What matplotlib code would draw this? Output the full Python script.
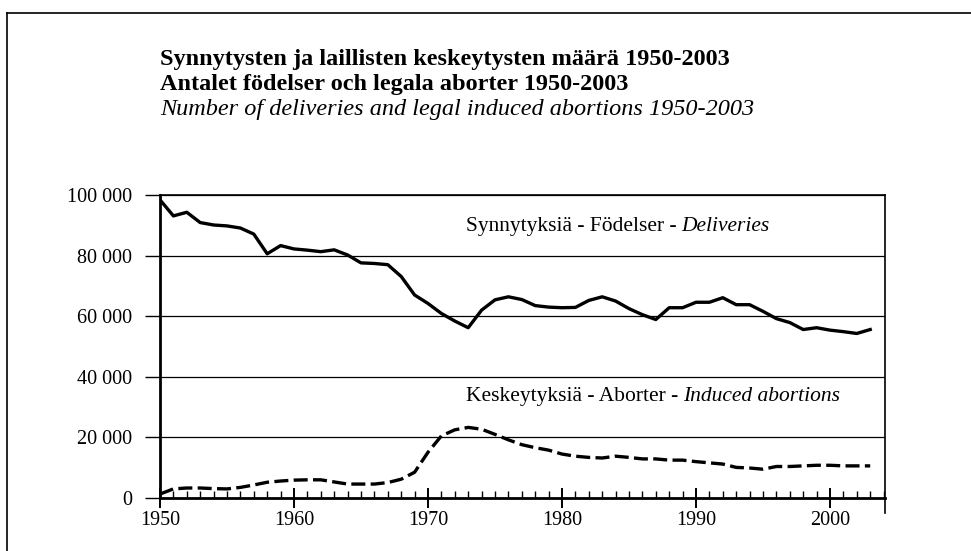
import matplotlib
matplotlib.use("Agg")
import matplotlib.pyplot as plt
from matplotlib.ticker import MultipleLocator, FuncFormatter
from matplotlib.lines import Line2D

years = list(range(1950, 2004))
deliveries = [98.4, 93.1, 94.3, 90.9, 90.1, 89.8, 89.1, 87.1, 80.6, 83.3,
              82.2, 81.8, 81.3, 81.9, 80.2, 77.6, 77.4, 77.0, 73.1, 67.0,
              64.2, 60.9, 58.4, 56.2, 62.0, 65.4, 66.4, 65.5, 63.5, 63.0,
              62.8, 62.9, 65.2, 66.4, 65.0, 62.5, 60.5, 58.9, 62.8, 62.8,
              64.6, 64.6, 66.1, 63.8, 63.8, 61.6, 59.2, 57.9, 55.6, 56.2,
              55.4, 54.9, 54.3, 55.6]
abortions = [1.3, 3.0, 3.3, 3.3, 3.1, 3.0, 3.5, 4.3, 5.2, 5.6,
             5.9, 6.0, 6.0, 5.3, 4.6, 4.6, 4.6, 5.1, 6.2, 8.5,
             15.1, 20.5, 22.5, 23.3, 22.7, 21.0, 19.2, 17.6, 16.6, 15.8,
             14.5, 13.8, 13.4, 13.2, 13.8, 13.4, 12.9, 12.9, 12.5, 12.5,
             12.0, 11.6, 11.2, 10.1, 9.9, 9.5, 10.4, 10.4, 10.6, 10.8,
             10.8, 10.6, 10.6, 10.6]
deliveries = [v * 1000 for v in deliveries]
abortions = [v * 1000 for v in abortions]

title_lines = ["Synnytysten ja laillisten keskeytysten määrä 1950-2003",
               "Antalet födelser och legala aborter 1950-2003",
               "Number of deliveries and legal induced abortions 1950-2003"]
label_deliv = ("Synnytyksiä - Födelser - ", "Deliveries")
label_abort = ("Keskeytyksiä - Aborter - ", "Induced abortions")

W, H = 971, 551
fig = plt.figure(figsize=(W / 100, H / 100), dpi=100)
SERIF = "Liberation Serif"

ax = fig.add_axes([160 / W, 1 - 498 / H, (885 - 160) / W, (498 - 195) / H])
ax.plot(years, deliveries, color="black", lw=2.4, solid_joinstyle="round")
ax.plot(years, abortions, color="black", lw=2.4, dashes=(4.2, 1.6))

ax.set_xlim(1950, 1950 + (885 - 160) / 13.4)
ax.set_ylim(0, 100000)
ax.yaxis.set_major_locator(MultipleLocator(20000))
ax.xaxis.set_major_locator(MultipleLocator(10))
ax.xaxis.set_minor_locator(MultipleLocator(1))
ax.yaxis.set_major_formatter(FuncFormatter(lambda v, p: f"{int(v):,}".replace(",", " ")))
ax.grid(axis="y", color="black", lw=0.9)
ax.set_axisbelow(True)
for s in ["left", "bottom"]:
    ax.spines[s].set_linewidth(2.0)
ax.spines["top"].set_linewidth(1.2)
ax.spines["right"].set_linewidth(1.2)
ax.tick_params(axis="y", direction="out", length=11, width=1.0, pad=9,
               labelsize=14.5)
ax.tick_params(axis="x", which="major", direction="inout", length=15, width=1.4,
               pad=2, labelsize=14.5)
ax.tick_params(axis="x", which="minor", direction="in", length=5, width=1.0)
for lab in ax.get_xticklabels() + ax.get_yticklabels():
    lab.set_family(SERIF)

ax.add_line(Line2D([1, 1], [0, -0.05], transform=ax.transAxes, color="black",
                   lw=1.2, clip_on=False))

ax.text(1972.8, 89500, label_deliv[0], family=SERIF, fontsize=15.5,
        va="center", ha="left")
ax.annotate(label_deliv[1], xy=(1, 0.5), xycoords=ax.texts[-1],
            va="center", ha="left", family=SERIF, fontsize=15.5, style="italic")
ax.text(1972.8, 33500, label_abort[0], family=SERIF, fontsize=15.5,
        va="center", ha="left")
ax.annotate(label_abort[1], xy=(1, 0.5), xycoords=ax.texts[-1],
            va="center", ha="left", family=SERIF, fontsize=15.5, style="italic")

baselines = [65, 90, 115]
for i, (line, y) in enumerate(zip(title_lines, baselines)):
    fig.text(160 / W, 1 - y / H, line, family=SERIF, fontsize=17.5,
             weight="bold" if i < 2 else "normal",
             style="italic" if i == 2 else "normal", va="baseline", ha="left")

fig.add_artist(Line2D([7 / W, 1], [1 - 13 / H, 1 - 13 / H], color="black", lw=1.2))
fig.add_artist(Line2D([7 / W, 7 / W], [0, 1 - 13 / H], color="black", lw=1.2))

fig.savefig("out.png", dpi=100)
